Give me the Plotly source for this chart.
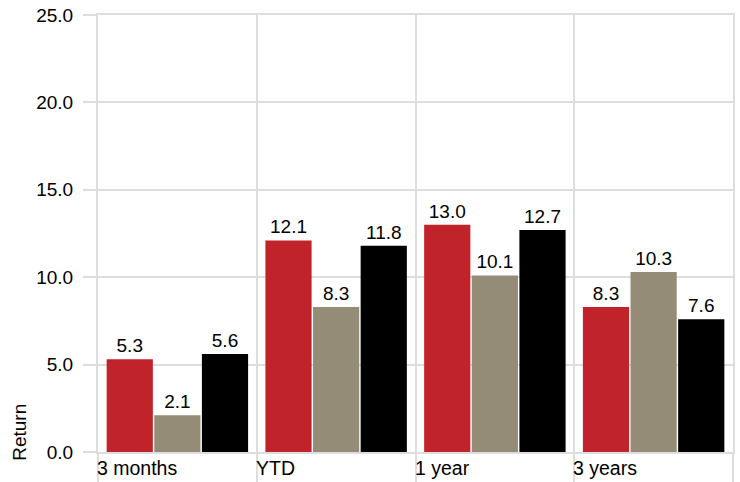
import plotly.graph_objects as go

categories = ["3 months", "YTD", "1 year", "3 years"]
series_names = ["Series A", "Series B", "Series C"]
series_a = [5.3, 12.1, 13.0, 8.3]
series_b = [2.1, 8.3, 10.1, 10.3]
series_c = [5.6, 11.8, 12.7, 7.6]
colors = ["#C0232A", "#948C76", "#000000"]
y_ticks = [0, 5, 10, 15, 20, 25]

FONT = "Liberation Sans, Arial"
GRID = "#DDDDDD"

x_pos = [i + 0.5 for i in range(len(categories))]

fig = go.Figure()
for name, vals, col in zip(series_names, [series_a, series_b, series_c], colors):
    fig.add_trace(go.Bar(
        x=x_pos, y=vals, name=name, marker=dict(color=col, line=dict(width=0)),
        text=[f"{v:.1f}" for v in vals], textposition="outside",
        textfont=dict(size=19, color="#000000", family=FONT),
        cliponaxis=False,
    ))

annotations = []
for i, c in enumerate(categories):
    annotations.append(dict(
        x=i, y=0, xref="x", yref="y", text=c, showarrow=False,
        xanchor="left", yanchor="top", yshift=-3, xshift=-3,
        font=dict(size=19.5, color="#000000", family=FONT),
    ))
annotations.append(dict(
    x=-0.123, y=0.046, xref="paper", yref="paper", text="Return", showarrow=False,
    textangle=-90, xanchor="center", yanchor="middle",
    font=dict(size=19, color="#000000", family=FONT),
))

fig.update_layout(
    width=740, height=482,
    margin=dict(l=98, r=7, t=15, b=30, autoexpand=False),
    paper_bgcolor="white", plot_bgcolor="white",
    barmode="group", bargap=0.1, bargroupgap=0.03,
    showlegend=False,
    font=dict(family=FONT, size=19, color="#000000"),
    annotations=annotations,
    xaxis=dict(
        range=[0, 4], tickvals=[0, 1, 2, 3, 4], ticktext=["", "", "", "", ""],
        showgrid=True, gridcolor=GRID, gridwidth=2,
        ticks="outside", ticklen=40, tickcolor=GRID, tickwidth=2,
        showline=True, mirror=True, linecolor=GRID, linewidth=2,
        zeroline=False, fixedrange=True, automargin=False,
    ),
    yaxis=dict(
        range=[0, 25], tickvals=y_ticks, tickformat=".1f",
        showgrid=True, gridcolor=GRID, gridwidth=2,
        ticks="outside", ticklen=13, tickcolor=GRID, tickwidth=2,
        ticklabelstandoff=6,
        showline=True, mirror=True, linecolor=GRID, linewidth=2,
        zeroline=False, automargin=False, ticklabeloverflow="allow",
        tickfont=dict(size=19, color="#000000"),
    ),
)

fig.write_html("out.html", config={"displayModeBar": False},
               post_script="document.body.style.margin='0';")
